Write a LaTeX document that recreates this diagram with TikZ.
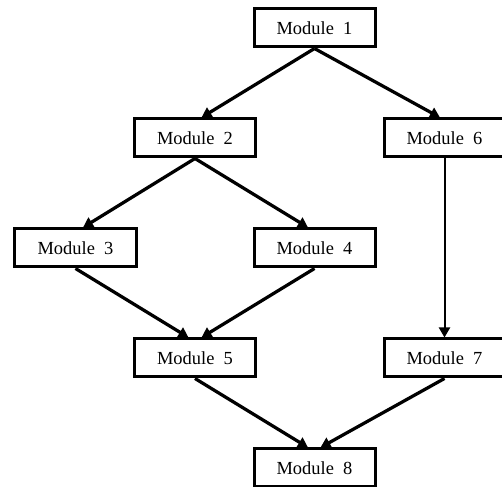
\documentclass[tikz,border=0pt]{standalone}
\usepackage{fontspec}
\setmainfont{Liberation Serif}
\usetikzlibrary{calc,arrows.meta}
\tikzset{
	modbox/.style={draw, line width=0.06cm, minimum width=2.42cm, minimum height=0.76cm, inner sep=0pt, font=\fontsize{10.5}{12}\selectfont},
	flow/.style={line width=0.065cm, -{Triangle[length=0.2cm, width=0.22cm]}}
}

\begin{document}
\begin{tikzpicture}
			%%%%% START %%%%%
			
			\useasboundingbox (0, 0) rectangle (10.04, 9.74);
			\clip (0, 0) rectangle (10.04, 9.74);
			
			\node[modbox] (m1) at (6.29, 9.18) {Module~~1};
			
			\node[modbox] (m2) at (3.90, 6.98) {Module~~2};
			\node[modbox] (m6) at (8.89, 6.98) {Module~~6};
			
			\node[modbox] (m3) at (1.51, 4.78) {Module~~3};
			\node[modbox] (m4) at (6.29, 4.78) {Module~~4};
			
			\node[modbox] (m5) at (3.90, 2.58) {Module~~5};
			\node[modbox] (m7) at (8.89, 2.58) {Module~~7};
			
			\node[modbox] (m8) at (6.29, 0.38) {Module~~8};
			
			\draw[flow] (m1.south) -- ($(m2.north)+(0.13, 0)$);
			\draw[flow] (m1.south) -- ($(m6.north)+(-0.09, 0)$);
			
			\draw[flow] (m2.south) -- ($(m3.north)+(0.15, 0)$);
			\draw[flow] (m2.south) -- ($(m4.north)+(-0.13, 0)$);
			\draw[flow, line width=0.04cm] (m6.south) -- (m7.north);
			
			\draw[flow] (m3.south) -- ($(m5.north)+(-0.13, 0)$);
			\draw[flow] (m4.south) -- ($(m5.north)+(0.13, 0)$);
			
			\draw[flow] (m5.south) -- ($(m8.north)+(-0.13, 0)$);
			\draw[flow] (m7.south) -- ($(m8.north)+(0.12, 0)$);
			
			%%%%% END %%%%%
\end{tikzpicture}
\end{document}
